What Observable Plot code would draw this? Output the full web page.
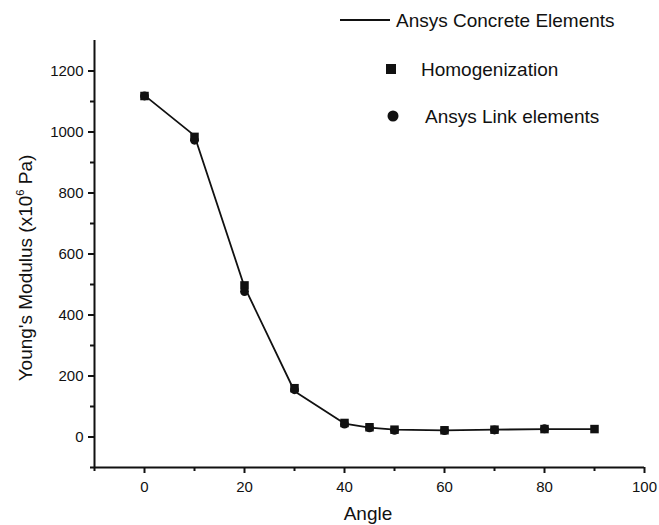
<!DOCTYPE html>
<html>
<head>
<meta charset="utf-8">
<script src="https://cdn.jsdelivr.net/npm/d3@7"></script>
<script src="https://cdn.jsdelivr.net/npm/@observablehq/plot@0.6"></script>
<style>
  html, body { margin: 0; padding: 0; background: #fff; }
  #wrap { position: relative; width: 659px; height: 525px; font-family: "Liberation Sans", Arial, sans-serif; overflow: hidden; }
  #wrap svg { display: block; }
  .leg { position: absolute; font-size: 19px; color: #111; white-space: nowrap; line-height: 1; }
</style>
</head>
<body>
<div id="wrap"></div>
<script>
// Data
const angles = [0, 10, 20, 30, 40, 45, 50, 60, 70, 80, 90];
const concrete = [1120, 988, 492, 150, 44, 31, 24, 22, 24, 26, 26];      // Ansys Concrete Elements (line)
const homogenization = [1118, 984, 497, 160, 46, 32, 24, 22, 24, 26, 26]; // squares
const linkAngles = [0, 10, 20, 30, 40, 45, 50, 60, 70, 80];
const linkElements = [1118, 973, 477, 155, 42, 30, 22, 21, 23, 27];      // circles
const xMajor = [0, 20, 40, 60, 80, 100];
const xMinor = [-10, 10, 30, 50, 70, 90];
const yMajor = [0, 200, 400, 600, 800, 1000, 1200];
const yMinor = [-100, 100, 300, 500, 700, 900, 1100];
const seriesNames = ["Ansys Concrete Elements", "Homogenization", "Ansys Link elements"];

const lineData = angles.map((a, i) => ({angle: a, value: concrete[i]}));
const sqData = angles.map((a, i) => ({angle: a, value: homogenization[i]}));
const circData = linkAngles.map((a, i) => ({angle: a, value: linkElements[i]}));

const fmt = d => String(d);

const chart = Plot.plot({
  width: 659,
  height: 525,
  marginLeft: 94,
  marginRight: 15,
  marginTop: 40,
  marginBottom: 58,
  style: {fontFamily: "Liberation Sans, Arial, sans-serif", fontSize: "15px", color: "#111", background: "#fff"},
  x: {domain: [-10, 100]},
  y: {domain: [-100, 1300]},
  marks: [
    Plot.axisX({ticks: xMajor, tickFormat: fmt, tickSize: 6, tickPadding: 8, fontSize: 15, stroke: "#111", strokeWidth: 2, label: null}),
    Plot.axisX({ticks: xMinor, tickSize: 4, stroke: "#111", strokeWidth: 2, text: null, label: null}),
    Plot.axisY({ticks: yMajor, tickFormat: fmt, tickSize: 6, tickPadding: 5, fontSize: 15, stroke: "#111", strokeWidth: 2, label: null}),
    Plot.axisY({ticks: yMinor, tickSize: 4, stroke: "#111", strokeWidth: 2, text: null, label: null}),
    Plot.ruleX([-10], {stroke: "#111", strokeWidth: 2}),
    Plot.ruleY([-100], {stroke: "#111", strokeWidth: 2}),
    Plot.line(lineData, {x: "angle", y: "value", stroke: "#111", strokeWidth: 1.8}),
    Plot.dot(sqData, {x: "angle", y: "value", symbol: "square", r: 4.8, fill: "#111", stroke: "none"}),
    Plot.dot(circData, {x: "angle", y: "value", symbol: "circle", r: 4.4, fill: "#111", stroke: "none"})
  ]
});

const wrap = document.getElementById("wrap");
wrap.appendChild(chart);

// Axis titles
const ylab = document.createElement("div");
ylab.className = "leg";
ylab.innerHTML = "Young's Modulus (x10<sup style='font-size:11px;vertical-align:8px'>6</sup> Pa)";
ylab.style.left = "25px";
ylab.style.top = "268px";
ylab.style.transform = "translate(-50%,-50%) rotate(-90deg)";
wrap.appendChild(ylab);

const xlab = document.createElement("div");
xlab.className = "leg";
xlab.textContent = "Angle";
xlab.style.left = "368px";
xlab.style.top = "504px";
xlab.style.transform = "translateX(-50%)";
wrap.appendChild(xlab);

// Legend
function legendItem(symbolSvg, sx, sy, tx, ty, text) {
  const s = document.createElement("div");
  s.style.position = "absolute";
  s.style.left = sx + "px";
  s.style.top = sy + "px";
  s.innerHTML = symbolSvg;
  wrap.appendChild(s);
  const t = document.createElement("div");
  t.className = "leg";
  t.textContent = text;
  t.style.left = tx + "px";
  t.style.top = ty + "px";
  wrap.appendChild(t);
}
legendItem('<svg width="52" height="20" style="display:block"><line x1="0" x2="50" y1="10" y2="10" stroke="#111" stroke-width="1.8"/></svg>', 340, 10, 396, 11, seriesNames[0]);
legendItem('<svg width="20" height="20" style="display:block"><rect x="5" y="5" width="10" height="10" fill="#111"/></svg>', 381, 59, 421, 60, seriesNames[1]);
legendItem('<svg width="20" height="20" style="display:block"><circle cx="10" cy="10" r="5.5" fill="#111"/></svg>', 383, 106, 425, 107, seriesNames[2]);
</script>
</body>
</html>
